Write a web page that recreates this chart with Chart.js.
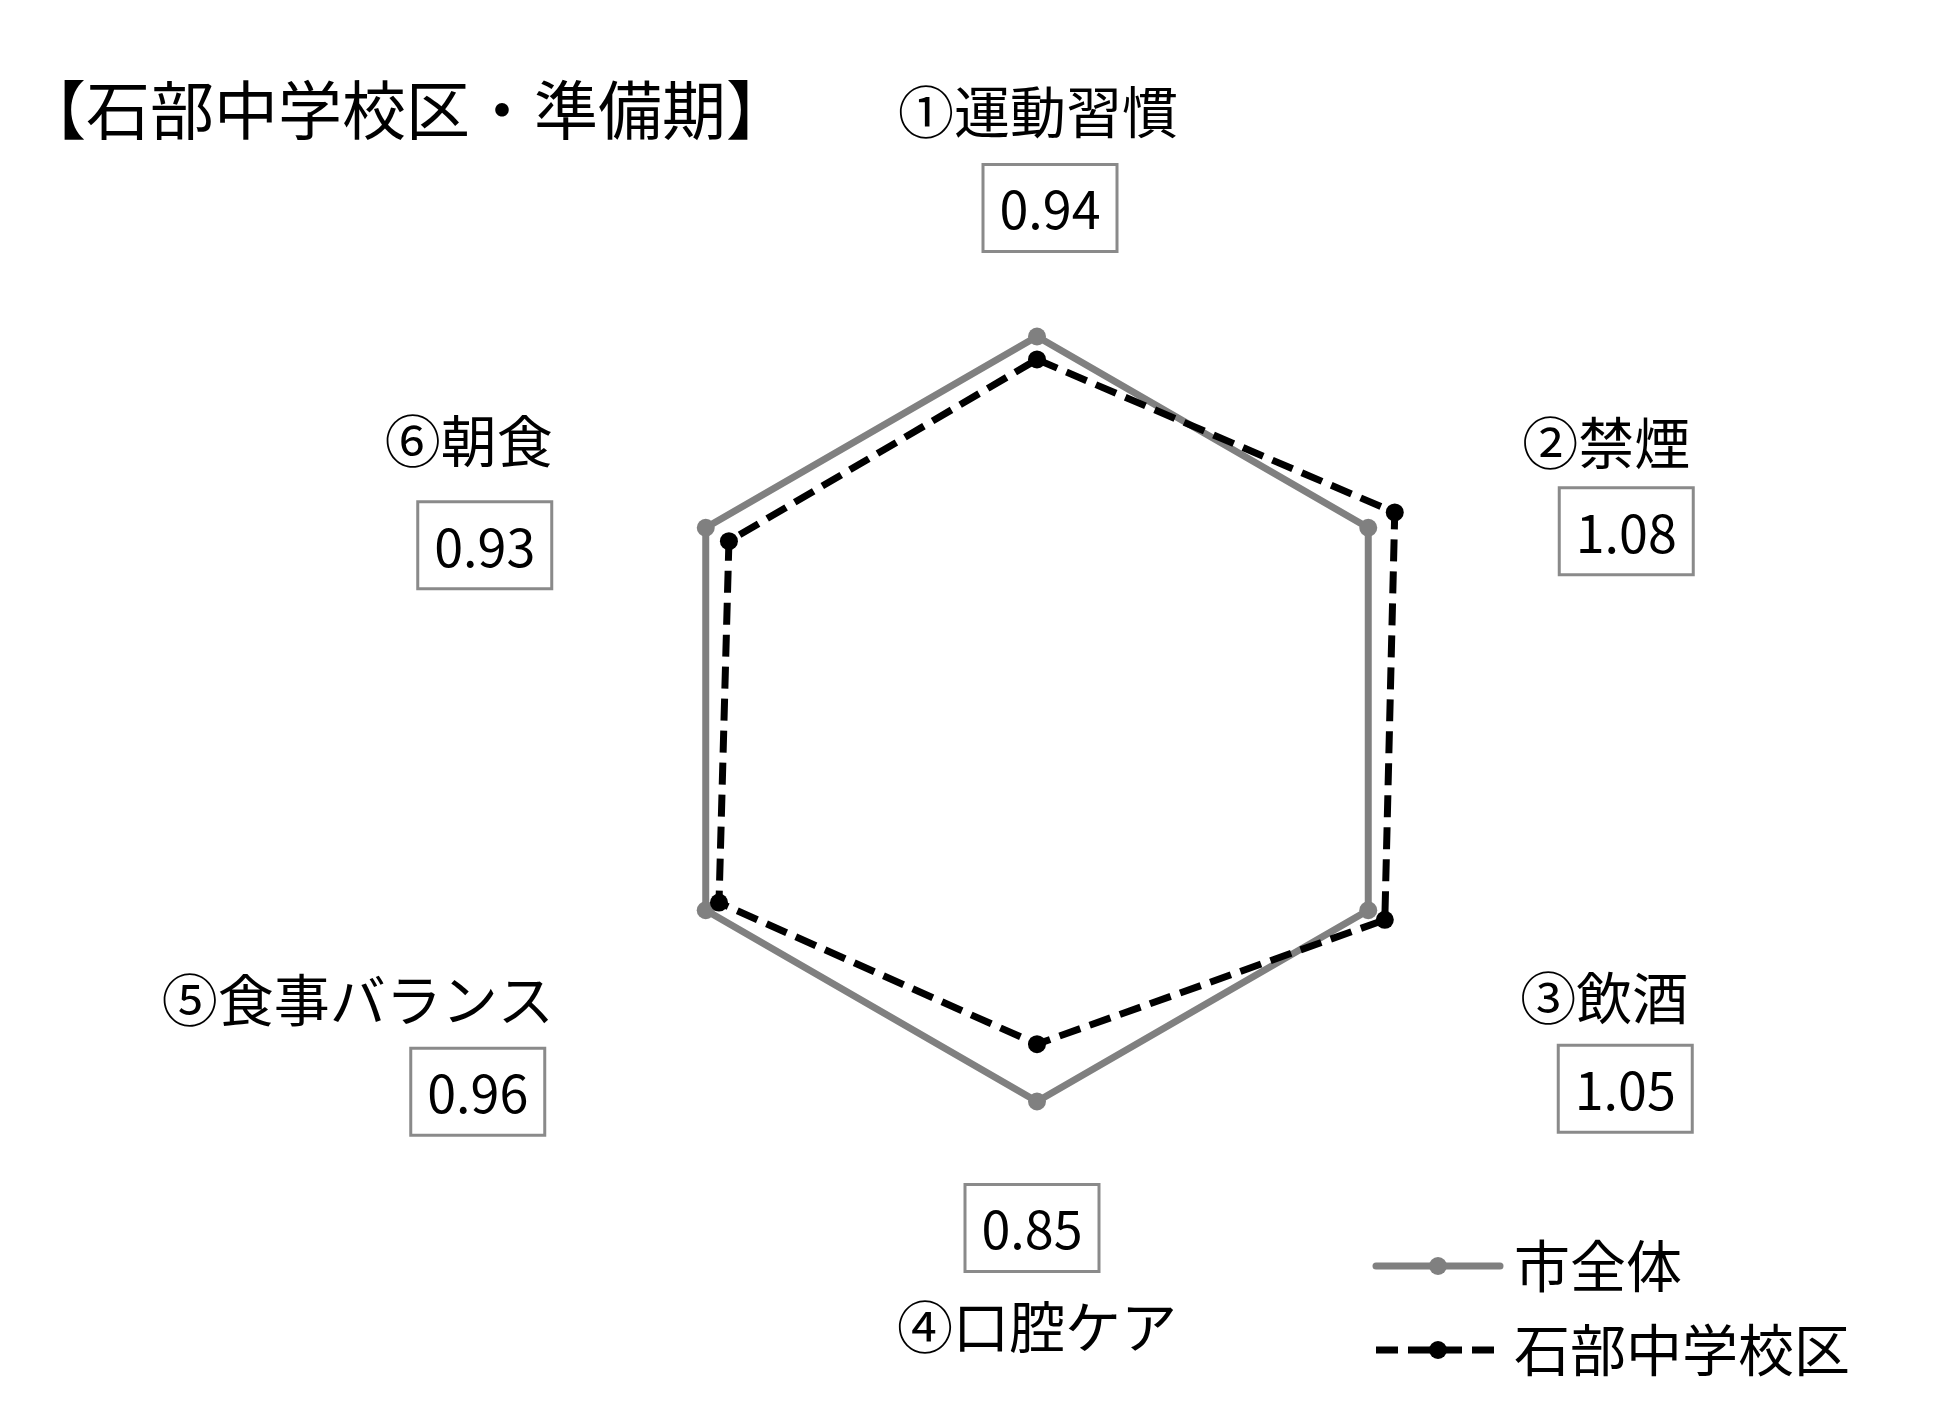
<!DOCTYPE html>
<html lang="ja">
<head>
<meta charset="utf-8">
<title>石部中学校区・準備期</title>
<script src="https://cdn.jsdelivr.net/npm/chart.js@4.4.1/dist/chart.umd.min.js"></script>
<style>
  html, body { margin: 0; padding: 0; background: #fff; }
  #wrap { position: relative; width: 1960px; height: 1417px; }
</style>
</head>
<body>
<div id="wrap"><canvas id="myChart"></canvas></div>
<script>
// data
var chartTitle = "【石部中学校区・準備期】";
var categories = ["①運動習慣", "②禁煙", "③飲酒", "④口腔ケア", "⑤食事バランス", "⑥朝食"];
var cityName = "市全体";
var cityValues = [1, 1, 1, 1, 1, 1];
var schoolName = "石部中学校区";
var schoolValues = [0.94, 1.08, 1.05, 0.85, 0.96, 0.93];

var FONT = "'Noto Sans CJK JP', 'Noto Sans', sans-serif";

// where the label and value box sit, relative to each axis point at value 1
var labelOffsets = [[1, -225], [238, -85], [236, 87], [0, 225], [-152, 89], [-153, -87]];
var labelAlign = ["center", "center", "center", "center", "right", "right"];
var boxOffsets = [[13, -129], [258, 3], [257, 178], [-5, 126], [-228, 181], [-221, 17]];

var labelPlugin = {
  id: "labelPlugin",
  afterDraw: function (chart) {
    var ctx = chart.ctx;
    var scale = chart.scales.r;
    ctx.save();

    // title
    ctx.fillStyle = "#000";
    ctx.font = "64px " + FONT;
    ctx.textAlign = "left";
    ctx.textBaseline = "middle";
    ctx.fillText(chartTitle, 22, 110);

    // category labels + value boxes
    for (var i = 0; i < categories.length; i++) {
      var p = scale.getPointPositionForValue(i, 1);
      ctx.font = "56px " + FONT;
      ctx.textAlign = labelAlign[i];
      ctx.fillStyle = "#000";
      ctx.fillText(categories[i], p.x + labelOffsets[i][0], p.y + labelOffsets[i][1]);

      var bx = p.x + boxOffsets[i][0];
      var by = p.y + boxOffsets[i][1];
      ctx.strokeStyle = "#8a8a8a";
      ctx.lineWidth = 3;
      ctx.strokeRect(bx - 67, by - 43, 134, 87);
      ctx.font = "52px " + FONT;
      ctx.textAlign = "center";
      ctx.fillText(schoolValues[i].toFixed(2), bx, by + 2);
    }

    // legend
    var items = [chart.data.datasets[0], chart.data.datasets[1]];
    var ly = [1266, 1350];
    for (var k = 0; k < items.length; k++) {
      var ds = items[k];
      ctx.strokeStyle = ds.borderColor;
      ctx.lineWidth = ds.borderWidth;
      ctx.setLineDash(ds.borderDash || []);
      ctx.lineCap = ds.borderDash ? "butt" : "round";
      ctx.beginPath();
      ctx.moveTo(1376, ly[k]);
      ctx.lineTo(1500, ly[k]);
      ctx.stroke();
      ctx.setLineDash([]);
      ctx.fillStyle = ds.pointBackgroundColor;
      ctx.beginPath();
      ctx.arc(1438, ly[k], ds.pointRadius, 0, Math.PI * 2);
      ctx.fill();
      ctx.fillStyle = "#000";
      ctx.font = "56px " + FONT;
      ctx.textAlign = "left";
      ctx.fillText(ds.label, 1514, ly[k]);
    }
    ctx.restore();
  }
};

new Chart("myChart", {
  type: "radar",
  data: {
    labels: categories,
    datasets: [{
      label: cityName,
      data: cityValues,
      borderColor: "#808080",
      borderWidth: 7,
      pointBackgroundColor: "#808080",
      pointBorderWidth: 0,
      pointRadius: 9,
      fill: false,
      order: 2
    }, {
      label: schoolName,
      data: schoolValues,
      borderColor: "#000",
      borderWidth: 7,
      borderDash: [22, 10],
      borderCapStyle: "butt",
      pointBackgroundColor: "#000",
      pointBorderWidth: 0,
      pointRadius: 9,
      fill: false,
      order: 1
    }]
  },
  options: {
    responsive: true,
    maintainAspectRatio: false,
    animation: false,
    devicePixelRatio: 1,
    layout: {
      padding: {left: 578, right: 464, top: 260, bottom: 239}
    },
    plugins: {
      legend: {display: false},
      tooltip: {enabled: false}
    },
    scales: {
      r: {
        min: 0,
        max: 1.2,
        ticks: {display: false},
        grid: {display: false},
        angleLines: {display: false},
        pointLabels: {display: false}
      }
    }
  },
  plugins: [labelPlugin]
});
</script>
</body>
</html>
